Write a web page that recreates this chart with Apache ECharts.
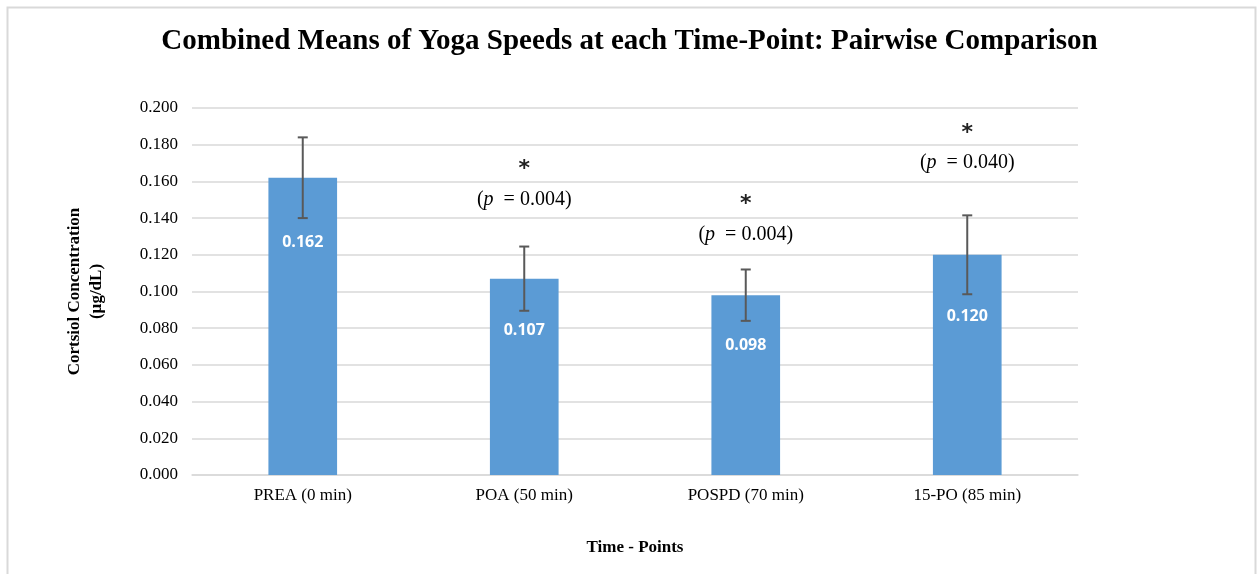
<!DOCTYPE html>
<html>
<head>
<meta charset="utf-8">
<script src="https://cdn.jsdelivr.net/npm/echarts@6/dist/echarts.min.js"></script>
<style>
html,body{margin:0;padding:0;background:#fff;}
#c{width:1259px;height:574px;}
</style>
</head>
<body>
<div id="c"></div>
<script>
// ---- data ----
const categories = ['PREA (0 min)', 'POA (50 min)', 'POSPD (70 min)', '15-PO (85 min)'];
const means = [0.162, 0.107, 0.098, 0.120];
const errors = [0.022, 0.0175, 0.014, 0.0215];
const pLabels = [null, '0.004', '0.004', '0.040'];
const pAnchor = [null, 0.150, 0.131, 0.170]; // value level of the p-text
const yTicks = [0, 0.02, 0.04, 0.06, 0.08, 0.10, 0.12, 0.14, 0.16, 0.18, 0.20];

// label drop (px below bar top) - style only
const labelDrop = [57, 44, 42, 54];

const serif = '"Liberation Serif", "Times New Roman", serif';
const chart = echarts.init(document.getElementById('c'), null, {renderer: 'canvas'});

const option = {
  backgroundColor: '#fff',
  animation: false,
  graphic: [{
    type: 'rect', left: 5, top: 5, silent: true,
    shape: {width: 1248, height: 600},
    style: {fill: 'none', stroke: '#d9d9d9', lineWidth: 2}
  }],
  title: {
    text: 'Combined Means of Yoga Speeds at each Time-Point: Pairwise Comparison',
    left: 'center', top: 22,
    textStyle: {fontFamily: serif, fontWeight: 'bold', fontSize: 29, color: '#000'}
  },
  grid: {left: 192, right: 181, top: 108, bottom: 99, containLabel: false},
  xAxis: {
    type: 'category', data: categories,
    axisLine: {show: true, lineStyle: {color: '#d9d9d9', width: 1.5}},
    axisTick: {show: false},
    axisLabel: {fontFamily: serif, fontSize: 17, color: '#000', margin: 12},
    name: 'Time - Points', nameLocation: 'middle', nameGap: 64,
    nameTextStyle: {fontFamily: serif, fontWeight: 'bold', fontSize: 17, color: '#000'}
  },
  yAxis: {
    type: 'value', min: 0, max: 0.2, interval: 0.02,
    axisLine: {show: false}, axisTick: {show: false},
    splitLine: {lineStyle: {color: '#d9d9d9', width: 1.5}},
    axisLabel: {fontFamily: serif, fontSize: 17, color: '#000', margin: 14,
      formatter: v => v.toFixed(3)},
    name: 'Cortsiol Concentration\n(µg/dL)', nameLocation: 'middle', nameGap: 84,
    nameRotate: 90,
    nameTextStyle: {fontFamily: serif, fontWeight: 'bold', fontSize: 17, color: '#000', lineHeight: 22}
  },
  series: [
    {
      type: 'bar', barWidth: '31%',
      itemStyle: {color: '#5B9BD5'},
      data: means.map((v, i) => ({
        value: v,
        label: {show: true, position: 'insideTop', distance: labelDrop[i],
          formatter: p => p.value.toFixed(3),
          color: '#fff', fontWeight: 'bold', fontSize: 16, fontFamily: '"Open Sans", "DejaVu Sans", sans-serif'}
      })),
      z: 2
    },
    {
      type: 'custom',
      data: means.map((m, i) => [i, m - errors[i], m + errors[i]]),
      renderItem: (params, api) => {
        const x = api.value(0);
        const lo = api.coord([x, api.value(1)]);
        const hi = api.coord([x, api.value(2)]);
        const hw = 5;
        const st = {stroke: '#595959', lineWidth: 2};
        return {type: 'group', children: [
          {type: 'line', shape: {x1: lo[0], y1: lo[1], x2: hi[0], y2: hi[1]}, style: st},
          {type: 'line', shape: {x1: lo[0]-hw, y1: lo[1], x2: lo[0]+hw, y2: lo[1]}, style: st},
          {type: 'line', shape: {x1: hi[0]-hw, y1: hi[1], x2: hi[0]+hw, y2: hi[1]}, style: st}
        ]};
      },
      z: 5
    },
    {
      type: 'custom',
      data: pAnchor.map((a, i) => a == null ? null : [i, a]).filter(d => d),
      renderItem: (params, api) => {
        const i = api.value(0);
        const pt = api.coord([i, api.value(1)]);
        return {type: 'group', children: [
          {type: 'text', x: pt[0], y: pt[1] - 30,
            style: {text: '*', fontFamily: '"DejaVu Sans", sans-serif', fontSize: 22, fontWeight: 'bold', fill: '#222',
              align: 'center', verticalAlign: 'middle'}},
          {type: 'text', x: pt[0], y: pt[1],
            style: {
              text: '{n|(}{i|p}{n|  = ' + pLabels[i] + ')}',
              align: 'center', verticalAlign: 'middle',
              rich: {
                n: {fontFamily: serif, fontSize: 20, fill: '#000', color: '#000'},
                i: {fontFamily: serif, fontSize: 20, fontStyle: 'italic', fill: '#000', color: '#000'}
              }
            }}
        ]};
      },
      z: 6
    }
  ]
};
chart.setOption(option);
</script>
</body>
</html>
